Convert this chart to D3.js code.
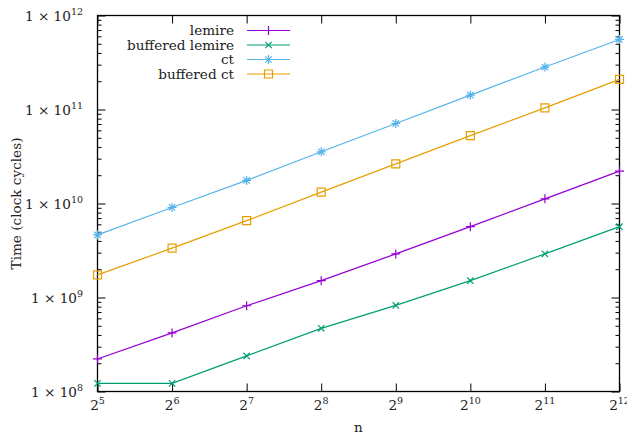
<!DOCTYPE html>
<html>
<head>
<meta charset="utf-8">
<script src="https://cdn.jsdelivr.net/npm/d3@7"></script>
<style>
  body { margin: 0; background: #fff; }
</style>
</head>
<body>
<svg id="chart" width="627" height="435"></svg>
<script>
// n values (powers of two) and timings in clock cycles
var nValues = [32, 64, 128, 256, 512, 1024, 2048, 4096];
var lemire = [2.22e8, 4.20e8, 8.17e8, 1.51e9, 2.91e9, 5.67e9, 1.12e10, 2.21e10];
var bufferedLemire = [1.22e8, 1.22e8, 2.39e8, 4.70e8, 8.24e8, 1.51e9, 2.91e9, 5.67e9];
var ct = [4.63e9, 9.07e9, 1.76e10, 3.55e10, 7.10e10, 1.42e11, 2.83e11, 5.56e11];
var bufferedCt = [1.74e9, 3.35e9, 6.57e9, 1.32e10, 2.64e10, 5.27e10, 1.04e11, 2.09e11];

var seriesNames = ["lemire", "buffered lemire", "ct", "buffered ct"];
var xTickExps = [5, 6, 7, 8, 9, 10, 11, 12];
var yTickExps = [8, 9, 10, 11, 12];

var colors = ["#9400d3", "#009e73", "#56b4e9", "#e69f00"];
var markers = ["plus", "cross", "star", "square"];
var seriesValues = [lemire, bufferedLemire, ct, bufferedCt];

var FONT = "'DejaVu Serif', serif";
var svg = d3.select("#chart");
var pLeft = 97.5, pRight = 619.5, pTop = 15.5, pBottom = 391.5;

var x = d3.scaleLog().base(2).domain([32, 4096]).range([pLeft, pRight]);
var y = d3.scaleLog().domain([1e8, 1e12]).range([pBottom, pTop]);

// minor ticks on y: 2..9 x each decade
var yMinor = [];
for (let e = 8; e < 12; e++) {
  for (let k = 2; k <= 9; k++) yMinor.push(k * Math.pow(10, e));
}
var yMajor = yTickExps.map(e => Math.pow(10, e));
var xMajor = xTickExps.map(e => Math.pow(2, e));

function tickAxis(axis, transform) {
  var g = svg.append("g").attr("transform", transform).call(axis);
  g.select(".domain").remove();
  g.selectAll("line").attr("stroke", "#000").attr("stroke-width", 1);
  g.selectAll("text").remove();
  return g;
}

// y ticks, left and right, pointing inward
tickAxis(d3.axisLeft(y).tickValues(yMajor).tickSize(-8).tickFormat(""), "translate(" + pLeft + ",0)");
tickAxis(d3.axisLeft(y).tickValues(yMinor).tickSize(-4).tickFormat(""), "translate(" + pLeft + ",0)");
tickAxis(d3.axisRight(y).tickValues(yMajor).tickSize(-8).tickFormat(""), "translate(" + pRight + ",0)");
tickAxis(d3.axisRight(y).tickValues(yMinor).tickSize(-4).tickFormat(""), "translate(" + pRight + ",0)");
// x ticks, bottom and top
tickAxis(d3.axisBottom(x).tickValues(xMajor).tickSize(-8).tickFormat(""), "translate(0," + pBottom + ")");
tickAxis(d3.axisTop(x).tickValues(xMajor).tickSize(-8).tickFormat(""), "translate(0," + pTop + ")");

// border
svg.append("rect")
  .attr("x", pLeft).attr("y", pTop)
  .attr("width", pRight - pLeft).attr("height", pBottom - pTop)
  .attr("fill", "none").attr("stroke", "#000").attr("stroke-width", 1.3);

function label(xp, yp, anchor) {
  return svg.append("text")
    .attr("x", xp).attr("y", yp)
    .attr("text-anchor", anchor)
    .attr("fill", "#222")
    .style("font-family", FONT)
    .style("font-size", "13.6px");
}

// y tick labels: 1 x 10^e
yTickExps.forEach(function(e) {
  var t = label(83, y(Math.pow(10, e)) + 5, "end");
  t.append("tspan").text("1 \u00d7 10");
  t.append("tspan").attr("dy", -6).style("font-size", "9.5px").text(e);
});

// x tick labels: 2^e
xTickExps.forEach(function(e) {
  var t = label(x(Math.pow(2, e)), 410, "middle");
  t.append("tspan").text("2");
  t.append("tspan").attr("dy", -6).style("font-size", "9.5px").text(e);
});

label((pLeft + pRight) / 2, 432, "middle").text("n");

label(0, 0, "middle")
  .attr("transform", "translate(21," + ((pTop + pBottom) / 2) + ") rotate(-90)")
  .text("Time (clock cycles)");

function markerPath(kind) {
  if (kind == "plus") return "M-4.5,0H4.5M0,-4.5V4.5";
  if (kind == "cross") return "M-3.2,-3.2L3.2,3.2M-3.2,3.2L3.2,-3.2";
  if (kind == "star") return "M-4.5,0H4.5M0,-4.5V4.5M-3.2,-3.2L3.2,3.2M-3.2,3.2L3.2,-3.2";
  return "M-4,-4H4V4H-4Z";
}

var line = d3.line()
  .x(d => x(d[0]))
  .y(d => y(d[1]));

seriesValues.forEach(function(vals, i) {
  var pts = nValues.map((n, j) => [n, vals[j]]);
  svg.append("path")
    .datum(pts)
    .attr("d", line)
    .attr("fill", "none")
    .attr("stroke", colors[i])
    .attr("stroke-width", 1.2);
  svg.selectAll(".m" + i)
    .data(pts)
    .enter().append("path")
    .attr("class", "m" + i)
    .attr("transform", d => "translate(" + x(d[0]) + "," + y(d[1]) + ")")
    .attr("d", markerPath(markers[i]))
    .attr("fill", "none")
    .attr("stroke", colors[i])
    .attr("stroke-width", 1.2);
});

// legend
seriesNames.forEach(function(name, i) {
  var ly = 30.5 + i * 14.5;
  label(234, ly + 4.5, "end").text(name);
  svg.append("line")
    .attr("x1", 247).attr("x2", 290)
    .attr("y1", ly).attr("y2", ly)
    .attr("stroke", colors[i]).attr("stroke-width", 1.2);
  svg.append("path")
    .attr("transform", "translate(268.5," + ly + ")")
    .attr("d", markerPath(markers[i]))
    .attr("fill", "none")
    .attr("stroke", colors[i])
    .attr("stroke-width", 1.2);
});
</script>
</body>
</html>
